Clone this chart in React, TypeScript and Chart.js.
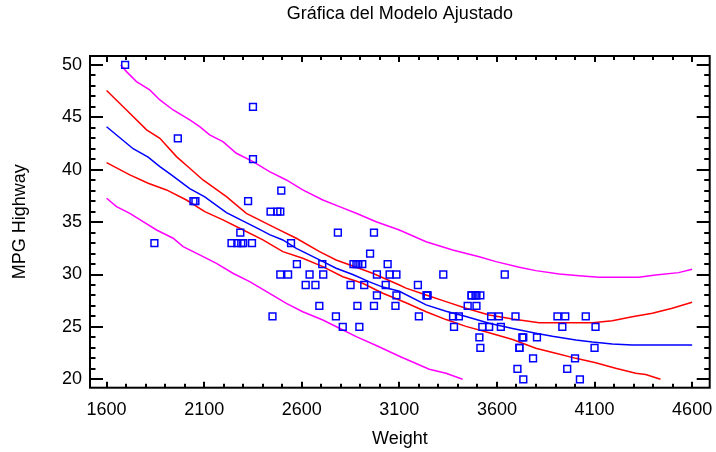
import React, { useEffect, useRef } from "react";
import { Chart, registerables } from "chart.js";

Chart.register(...registerables);

// ---- Data ----
const carWeight = [
  2705, 3560, 3375, 3405, 3640, 2880, 3470, 4105, 3495, 3620,
  3935, 2490, 2785, 3240, 3195, 3715, 4025, 3910, 3380, 3515,
  3085, 3570, 2270, 2670, 2970, 3705, 3080, 3805, 2290, 3490,
  1845, 2530, 2690, 2850, 2710, 3735, 3325, 3950, 1695, 2475,
  2865, 2350, 3040, 2345, 2620, 2285, 2885, 4000, 3510, 3515,
  3695, 4055, 2325, 2440, 2970, 3735, 2895, 2920, 3525, 2450,
  3610, 2300, 3730, 2545, 3050, 4100, 3200, 2910, 2890, 3715,
  3470, 2640, 2350, 2575, 3240, 3450, 3495, 2775, 2495, 2045,
  2490, 3085, 1965, 2055, 2950, 3030, 3785, 2240, 3960, 2985,
  2810, 2985, 3245,
];
const carMpgHighway = [
  31, 25, 26, 26, 30, 31, 28, 25, 27, 25,
  25, 36, 34, 28, 29, 23, 20, 26, 25, 28,
  28, 26, 33, 29, 27, 21, 27, 24, 33, 28,
  33, 30, 27, 29, 30, 20, 30, 26, 50, 36,
  31, 46, 31, 33, 29, 34, 27, 22, 24, 23,
  26, 26, 37, 36, 34, 24, 25, 29, 25, 26,
  26, 33, 24, 33, 30, 23, 26, 31, 31, 23,
  28, 30, 41, 31, 28, 27, 28, 26, 38, 37,
  30, 30, 43, 37, 32, 29, 22, 33, 21, 30,
  25, 28, 28,
];

// fitted model (blue)
const fitWeight = [1600, 1736, 1813, 1873, 1932, 2026, 2103, 2214, 2384, 2435, 2503, 2572, 2691, 2776, 2861, 2947, 3015, 3100, 3237, 3339, 3441, 3560, 3680, 3799, 3884, 4004, 4089, 4191, 4293, 4600];
const fitMpg = [44.1, 42.0, 41.2, 40.3, 39.5, 38.2, 37.4, 35.9, 34.3, 33.8, 33.3, 32.5, 31.4, 30.6, 30.0, 29.3, 28.8, 28.4, 27.1, 26.5, 26.0, 25.35, 24.85, 24.4, 24.1, 23.75, 23.55, 23.37, 23.27, 23.27];

// confidence limits (red)
const confUpperWeight = [1600, 1685, 1805, 1873, 1958, 2026, 2094, 2214, 2316, 2469, 2572, 2691, 2776, 2879, 2963, 3100, 3134, 3237, 3339, 3441, 3560, 3680, 3816, 3953, 4089, 4191, 4293, 4396, 4498, 4600];
const confUpperMpg = [47.55, 46.0, 43.8, 43.0, 41.25, 40.14, 39.02, 37.43, 35.84, 34.41, 33.46, 32.18, 31.39, 30.69, 30.12, 29.0, 28.7, 28.05, 27.41, 26.78, 26.14, 25.75, 25.4, 25.4, 25.4, 25.59, 25.98, 26.3, 26.78, 27.35];
const confLowerWeight = [1600, 1719, 1813, 1907, 2009, 2103, 2196, 2282, 2401, 2503, 2605, 2708, 2810, 2912, 3015, 3134, 3237, 3339, 3441, 3560, 3680, 3799, 3901, 4004, 4106, 4208, 4311, 4362, 4438];
const confLowerMpg = [40.67, 39.5, 38.71, 38.07, 37.11, 36.0, 35.21, 34.41, 33.3, 32.18, 31.55, 30.75, 29.79, 29.16, 28.21, 27.3, 26.45, 25.7, 25.05, 24.45, 23.8, 22.96, 22.48, 22.0, 21.58, 21.05, 20.57, 20.45, 20.0];

// prediction limits (magenta)
const predUpperWeight = [1672, 1702, 1753, 1821, 1873, 1941, 2026, 2077, 2128, 2196, 2265, 2350, 2435, 2521, 2605, 2708, 2793, 2879, 2981, 3100, 3237, 3373, 3509, 3595, 3714, 3799, 3919, 4021, 4123, 4327, 4413, 4531, 4600];
const predUpperMpg = [50.0, 49.36, 48.41, 47.61, 46.66, 45.7, 44.75, 44.11, 43.32, 42.68, 41.57, 40.77, 39.82, 39.02, 38.07, 37.11, 36.48, 35.84, 35.04, 34.25, 33.13, 32.34, 31.7, 31.23, 30.69, 30.37, 30.05, 29.89, 29.74, 29.74, 29.96, 30.18, 30.5];
const predLowerWeight = [1600, 1651, 1719, 1787, 1856, 1941, 1992, 2077, 2163, 2247, 2333, 2435, 2521, 2605, 2708, 2793, 2879, 2990, 3100, 3253, 3339, 3424];
const predLowerMpg = [37.28, 36.48, 35.84, 35.04, 34.25, 33.46, 32.66, 31.87, 31.07, 30.12, 29.32, 28.21, 27.25, 26.45, 25.66, 24.87, 24.07, 23.15, 22.2, 20.96, 20.57, 20.0];

const xTickValues = [1600, 2100, 2600, 3100, 3600, 4100, 4600];
const yTickValues = [20, 25, 30, 35, 40, 45, 50];

const X_MIN = 1515;
const X_MAX = 4690;
const Y_MIN = 19.2;
const Y_MAX = 50.85;

const TITLE = "Gráfica del Modelo Ajustado";
const X_TITLE = "Weight";
const Y_TITLE = "MPG Highway";

const FONT_FAMILY = "'Liberation Sans', Arial, Helvetica, sans-serif";

const zip = (xs: number[], ys: number[]) => xs.map((x, i) => ({ x, y: ys[i] }));

const framePlugin = {
  id: "frameTicks",
  afterDatasetsDraw(chart: any) {
    const { ctx, chartArea: a, scales } = chart;
    const xs = scales.x;
    const ys = scales.y;
    ctx.save();
    ctx.strokeStyle = "#000";
    ctx.lineWidth = 2;
    ctx.strokeRect(a.left, a.top, a.right - a.left, a.bottom - a.top);
    ctx.beginPath();
    for (let v = 1600; v <= 4600; v += 100) {
      const px = Math.round(xs.getPixelForValue(v));
      const len = (v - 1600) % 500 === 0 ? 6 : 4;
      ctx.moveTo(px, a.bottom);
      ctx.lineTo(px, a.bottom - len);
      ctx.moveTo(px, a.top);
      ctx.lineTo(px, a.top + len);
    }
    for (let v = 20; v <= 50; v += 1) {
      const py = Math.round(ys.getPixelForValue(v));
      const len = v % 5 === 0 ? 13 : 5.5;
      ctx.moveTo(a.left, py);
      ctx.lineTo(a.left + len, py);
      ctx.moveTo(a.right, py);
      ctx.lineTo(a.right - len, py);
    }
    ctx.stroke();
    ctx.restore();
  },
};

export default function App() {
  const canvasRef = useRef<HTMLCanvasElement | null>(null);

  useEffect(() => {
    const canvas = canvasRef.current;
    if (!canvas) return;
    const font = { family: FONT_FAMILY, size: 18 };
    const lineDs = (label: string, xs: number[], ys: number[], color: string) => ({
      label,
      data: zip(xs, ys),
      showLine: true,
      borderColor: color,
      backgroundColor: color,
      borderWidth: 1.5,
      pointRadius: 0,
      tension: 0,
      fill: false,
    });
    const chart = new Chart(canvas, {
      type: "scatter",
      data: {
        datasets: [
          {
            label: "Observaciones",
            data: zip(carWeight, carMpgHighway),
            pointStyle: "rect",
            pointRadius: 4.8,
            borderColor: "#0000ff",
            backgroundColor: "rgba(0,0,0,0)",
            borderWidth: 1.5,
            showLine: false,
          } as any,
          lineDs("Modelo", fitWeight, fitMpg, "#0000ff"),
          lineDs("Conf. sup.", confUpperWeight, confUpperMpg, "#ff0000"),
          lineDs("Conf. inf.", confLowerWeight, confLowerMpg, "#ff0000"),
          lineDs("Pred. sup.", predUpperWeight, predUpperMpg, "#ff00ff"),
          lineDs("Pred. inf.", predLowerWeight, predLowerMpg, "#ff00ff"),
        ],
      },
      options: {
        animation: false,
        responsive: false,
        devicePixelRatio: 1,
        layout: { padding: 0 },
        plugins: {
          legend: { display: false },
          tooltip: { enabled: false },
          title: { display: false },
        },
        scales: {
          x: {
            type: "linear",
            position: "bottom",
            min: X_MIN,
            max: X_MAX,
            grid: { display: false, drawTicks: false },
            border: { display: false },
            afterBuildTicks: (s: any) => {
              s.ticks = xTickValues.map((v) => ({ value: v }));
            },
            afterFit: (s: any) => {
              s.height = 452 - 387.7;
              s.paddingLeft = 0;
              s.paddingRight = 0;
            },
            ticks: {
              font,
              color: "#000",
              padding: 12,
              autoSkip: false,
              maxRotation: 0,
              callback: (v: any) => String(v),
            },
            title: {
              display: true,
              text: X_TITLE,
              font,
              color: "#000",
              padding: { top: 0, bottom: 2.4 },
            },
          },
          x2: {
            type: "linear",
            position: "top",
            min: X_MIN,
            max: X_MAX,
            grid: { display: false, drawTicks: false },
            border: { display: false },
            ticks: { display: false },
            afterFit: (s: any) => {
              s.height = 56;
              s.paddingLeft = 0;
              s.paddingRight = 0;
            },
            title: {
              display: true,
              text: TITLE,
              font,
              color: "#000",
              padding: { top: 3.7, bottom: 0 },
            },
          },
          y: {
            type: "linear",
            position: "left",
            min: Y_MIN,
            max: Y_MAX,
            grid: { display: false, drawTicks: false },
            border: { display: false },
            afterBuildTicks: (s: any) => {
              s.ticks = yTickValues.map((v) => ({ value: v }));
            },
            afterFit: (s: any) => {
              s.width = 90;
              s.paddingTop = 0;
              s.paddingBottom = 0;
            },
            ticks: {
              font,
              color: "#000",
              padding: 8,
              autoSkip: false,
              callback: (v: any) => String(v),
            },
            title: {
              display: true,
              text: Y_TITLE,
              font,
              color: "#000",
              padding: { top: 9, bottom: 0 },
            },
          },
          y2: {
            type: "linear",
            position: "right",
            min: Y_MIN,
            max: Y_MAX,
            grid: { display: false, drawTicks: false },
            border: { display: false },
            ticks: { display: false },
            afterFit: (s: any) => {
              s.width = 5;
              s.paddingTop = 0;
              s.paddingBottom = 0;
            },
          },
        },
      } as any,
      plugins: [framePlugin],
    });
    return () => chart.destroy();
  }, []);

  return (
    <div style={{ position: "fixed", left: 0, top: 0, width: 716, height: 452, background: "#fff" }}>
      <canvas ref={canvasRef} width={716} height={452} style={{ display: "block", width: 716, height: 452 }} />
    </div>
  );
}
